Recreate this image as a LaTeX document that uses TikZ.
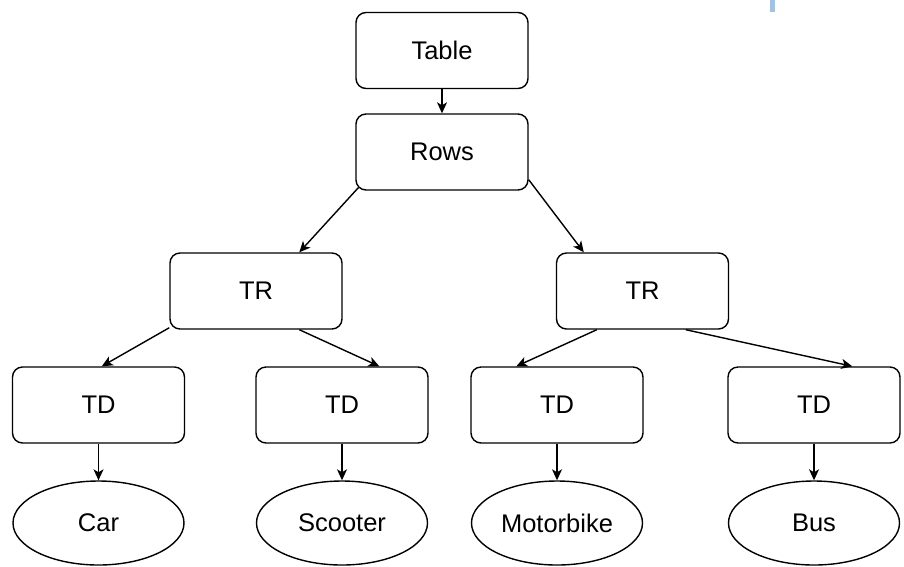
\documentclass[tikz,border=0pt]{standalone}
\usepackage{fontspec}
\setmainfont{Liberation Sans}
\usetikzlibrary{arrows.meta,calc,shapes.geometric}
\begin{document}
\begin{tikzpicture}[x=1pt,y=-1pt,
  box/.style={draw=black, line width=1.4pt, rounded corners=10pt, minimum width=172pt, minimum height=76pt, inner sep=0pt, font=\fontsize{25.5}{30}\selectfont},
  leaf/.style={draw=black, line width=1.4pt, ellipse, minimum width=171pt, minimum height=84pt, inner sep=0pt, font=\fontsize{25.5}{30}\selectfont},
  link/.style={draw=black, line width=1.4pt, -{Stealth[length=11pt,width=10pt,inset=3pt]}}]
\useasboundingbox (0,0) rectangle (904,566);
\fill[fill={rgb,255:red,157;green,195;blue,230}] (769.5,0) rectangle (775,12);
\node[box] (table) at (442,50.5) {Table};
\node[box] (rows) at (442,152) {Rows};
\node[box] (trl) at (256,291) {TR};
\node[box] (trr) at (642.5,291) {TR};
\node[box] (td1) at (98.5,405) {TD};
\node[box] (td2) at (342,405) {TD};
\node[box] (td3) at (557,405) {TD};
\node[box] (td4) at (814,405) {TD};
\node[leaf] (car) at (98.5,523) {Car};
\node[leaf] (scooter) at (342,523) {Scooter};
\node[leaf] (moto) at (557,523) {Motorbike};
\node[leaf] (bus) at (814,523) {Bus};
\draw[link] (table.south) -- (rows.north);
\draw[link] ($(rows.south west)+(3.3,-3.3)$) -- ($(trl.north west)+(130,0)$);
\draw[link] ($(rows.south east)+(0,-11)$) -- ($(trr.north west)+(28,0)$);
\draw[link] ($(trl.south west)+(0,-2)$) -- ($(td1.north west)+(90,0)$);
\draw[link] ($(trl.south west)+(130,0)$) -- ($(td2.north west)+(124,0)$);
\draw[link] ($(trr.south west)+(41,0)$) -- ($(td3.north west)+(46,0)$);
\draw[link] ($(trr.south west)+(130,0)$) -- ($(td4.north west)+(125,0)$);
\draw[link] (td1.south) -- (car.north);
\draw[link] (td2.south) -- (scooter.north);
\draw[link] (td3.south) -- (moto.north);
\draw[link] (td4.south) -- (bus.north);
\end{tikzpicture}
\end{document}
